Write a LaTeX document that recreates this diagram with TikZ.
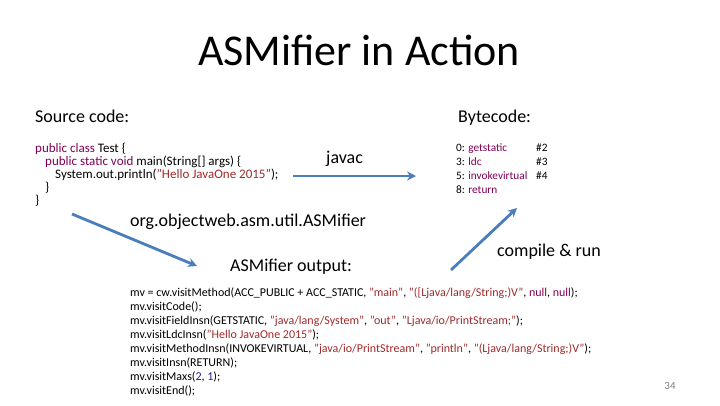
\documentclass[tikz,border=0pt]{standalone}
\usepackage{fontspec}
\setmainfont{Carlito}
\usetikzlibrary{arrows.meta}
\definecolor{kwpurple}{RGB}{127,0,85}
\definecolor{strred}{RGB}{160,40,40}
\definecolor{numblue}{RGB}{30,30,140}
\definecolor{arrowblue}{RGB}{74,126,187}
\newcommand{\kw}[1]{\textcolor{kwpurple}{#1}}
\newcommand{\str}[1]{\textcolor{strred}{#1}}
\newcommand{\num}[1]{\textcolor{numblue}{#1}}

\begin{document}
\begin{tikzpicture}[x=1pt,y=-1pt,
    lbl/.style={anchor=base west,inner sep=0pt,font=\fontsize{18}{21}\selectfont},
    code/.style={anchor=base west,inner sep=0pt,font=\fontsize{12}{14}\selectfont},
    srccode/.style={code,font=\fontsize{13}{14}\selectfont},
    bytecode/.style={code,font=\fontsize{11.3}{13}\selectfont},
    flow/.style={-{Stealth[length=9pt,width=9pt]},line width=2.8pt,draw=arrowblue}]
    \useasboundingbox (0,0) rectangle (720,405);
    \node[anchor=base,inner sep=0pt,font=\fontsize{44}{52}\selectfont] (title) at (359,65) {ASMifier in Action};
    \node[lbl] (srclbl) at (35,122) {Source code:};
    \node[lbl] (bytelbl) at (458,122) {Bytecode:};
    % source
    \node[srccode] (src0) at (35,152) {\kw{public class} Test \{};
    \node[srccode] (src1) at (45,165) {\kw{public static void} main(String[] args) \{};
    \node[srccode] (src2) at (55,178) {System.out.println(\str{"Hello JavaOne 2015"});};
    \node[srccode] (src3) at (45,191) {\}};
    \node[srccode] (src4) at (35,204) {\}};
    % bytecode
    \foreach \op/\arg [count=\i from 0] in {0: \kw{getstatic}/\#2, 3: \kw{ldc}/\#3,
        5: \kw{invokevirtual}/\#4, 8: \kw{return}/{}} {
        \node[bytecode] (op\i) at (456,151+14*\i) {\op};
        \node[bytecode] (arg\i) at (536,151+14*\i) {\arg};
    }
    % arrows
    \coordinate (javacS) at (293,176);
    \coordinate (javacE) at (416,176);
    \draw[flow] (javacS) -- (javacE);
    \node[lbl] (javac) at (326,163) {javac};
    \coordinate (asmS) at (72,214);
    \coordinate (asmE) at (197,266);
    \draw[flow] (asmS) -- (asmE);
    \node[lbl] (asmifier) at (130,226) {org.objectweb.asm.util.ASMifier};
    \node[lbl] (outlbl) at (230,271) {ASMifier output:};
    \coordinate (runS) at (451,270);
    \coordinate (runE) at (517,208);
    \draw[flow] (runS) -- (runE);
    \node[lbl] (run) at (497,256) {compile \& run};
    % asmifier output
    \foreach \ln [count=\i from 0] in {
        {mv = cw.visitMethod(ACC\_PUBLIC + ACC\_STATIC, \str{"main"}, \str{"([Ljava/lang/String;)V"}, \kw{null}, \kw{null});},
        {mv.visitCode();},
        {mv.visitFieldInsn(GETSTATIC, \str{"java/lang/System"}, \str{"out"}, \str{"Ljava/io/PrintStream;"});},
        {mv.visitLdcInsn(\str{"Hello JavaOne 2015"});},
        {mv.visitMethodInsn(INVOKEVIRTUAL, \str{"java/io/PrintStream"}, \str{"println"}, \str{"(Ljava/lang/String;)V"});},
        {mv.visitInsn(RETURN);},
        {mv.visitMaxs(\num{2}, \num{1});},
        {mv.visitEnd();}} {
        \node[code] (out\i) at (130,296+14.1*\i) {\ln};
    }
    \node[anchor=base,inner sep=0pt,text=gray,font=\fontsize{11}{13}\selectfont] (page) at (670,389) {34};
\end{tikzpicture}
\end{document}
